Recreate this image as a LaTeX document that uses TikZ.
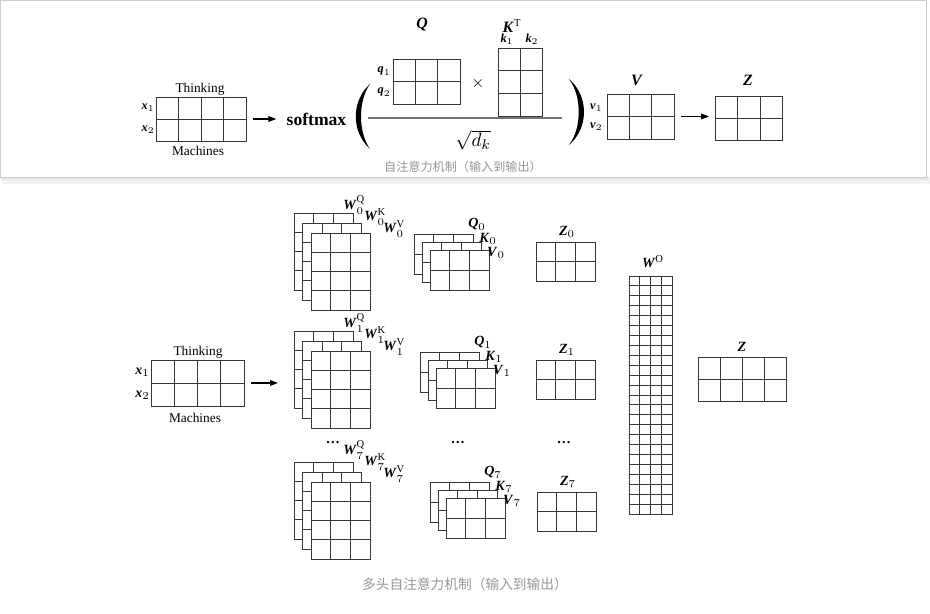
\documentclass[tikz,border=0pt]{standalone}
\usepackage{amsmath}
\usepackage{fontspec}
\setmainfont{Liberation Serif}
\newfontfamily\cjk{Noto Sans CJK SC}
\usetikzlibrary{arrows.meta,calc}
\definecolor{gridGray}{RGB}{55,55,55}
\definecolor{capGray}{RGB}{150,150,150}
\newcommand{\bv}[1]{\textbf{\textit{#1}}}

\begin{document}
\begin{tikzpicture}[x=0.02cm,y=-0.02cm,
    mat/.style n args={4}{draw=gridGray,fill=white,line width=0.55pt,
      inner sep=0pt,outer sep=0pt,anchor=north west,
      minimum width={#1*#3*0.02cm},minimum height={#2*#4*0.02cm},
      path picture={
        \pgfmathtruncatemacro\nc{#1-1}
        \pgfmathtruncatemacro\nr{#2-1}
        \foreach \k in {1,...,\nc}
          \draw[gridGray,line width=0.55pt]
            ($(path picture bounding box.north west)!\k/#1!(path picture bounding box.north east)$) --
            ($(path picture bounding box.south west)!\k/#1!(path picture bounding box.south east)$);
        \foreach \k in {1,...,\nr}
          \draw[gridGray,line width=0.55pt]
            ($(path picture bounding box.north west)!\k/#2!(path picture bounding box.south west)$) --
            ($(path picture bounding box.north east)!\k/#2!(path picture bounding box.south east)$);
      }},
    lbl/.style={font=\fontsize{8}{9}\selectfont,inner sep=0pt},
    big/.style={font=\fontsize{9}{10}\selectfont,inner sep=0pt},
    idx/.style={font=\fontsize{7}{8}\selectfont,inner sep=0pt},
    word/.style={font=\fontsize{7.6}{9}\selectfont,inner sep=0pt},
    etc/.style={font=\fontsize{8}{9}\selectfont\bfseries,inner sep=0pt},
    captext/.style={font=\fontsize{6.9}{8}\cjk,text=capGray,inner sep=0pt},
    arr/.style={-{Triangle[length=4.5pt,width=3.2pt]},line width=0.7pt,black}]

  \useasboundingbox (0,0) rectangle (930,614);

  % card with shadow
  \fill[black!5] (2,177) rectangle (930,184);
  \fill[black!10] (1,176) rectangle (928,180);
  \draw[black!20,fill=white] (0.5,0.5) rectangle (926,177);

  % self-attention: input
  \node[mat={4}{2}{22.5}{22}] (xa) at (156,97) {};
  \node[word] (ta) at (200,89) {Thinking};
  \node[word] (ma) at (198,151) {Machines};
  \node[idx,anchor=east] (xa1) at (155,108) {$\bv{x}_1$};
  \node[idx,anchor=east] (xa2) at (155,130) {$\bv{x}_2$};
  \node[font=\fontsize{10}{12}\selectfont\bfseries,inner sep=0pt] (sm) at (316.5,119) {softmax};
  \draw[arr,shorten <=0.14cm,shorten >=0.2cm] (xa) -- (sm);

  % brackets and fraction
  \fill (370,84) .. controls (351,101) and (351,132) .. (370,149)
                 .. controls (358,132) and (358,101) .. cycle;
  \fill (569,79) .. controls (589,96) and (589,128) .. (569,145)
                 .. controls (582,128) and (582,96) .. cycle;
  \draw[gridGray!70,line width=0.6pt] (368,118) -- (562,118);

  % Q times K^T over sqrt(d_k)
  \node[mat={3}{2}{22.4}{22.5}] (qm) at (393,59) {};
  \node[big] (ql) at (422,25) {$\bv{Q}$};
  \node[idx,anchor=east] (q1) at (391,71) {$\bv{q}_1$};
  \node[idx,anchor=east] (q2) at (391,92) {$\bv{q}_2$};
  \node[font=\fontsize{9}{10}\selectfont,inner sep=0pt] (times) at (478,84) {$\times$};
  \node[mat={2}{3}{22.3}{22.7}] (km) at (498,48) {};
  \node[big] (kl) at (512,26) {$\bv{K}^{\mathrm{T}}$};
  \node[idx] (k1) at (507,39) {$\bv{k}_1$};
  \node[idx] (k2) at (532,39) {$\bv{k}_2$};
  \node[font=\fontsize{11}{13}\selectfont,inner sep=0pt] (dk) at (473,140) {$\sqrt{d_k}$};

  % V and Z
  \node[mat={3}{2}{22.4}{22.5}] (vm) at (607,94) {};
  \node[big] (vl) at (637,80) {$\bv{V}$};
  \node[idx,anchor=east] (v1) at (603,108) {$\bv{v}_1$};
  \node[idx,anchor=east] (v2) at (603,127) {$\bv{v}_2$};
  \node[mat={3}{2}{22.6}{22}] (zm) at (715,96) {};
  \node[big] (zl) at (748,80) {$\bv{Z}$};
  \draw[arr,shorten <=0.14cm,shorten >=0.12cm] (vm.east) -- (vm.east -| zm.west);

  \node[captext] (capa) at (463,167) {自注意力机制（输入到输出）};

  % multi-head: input
  \node[mat={4}{2}{23.25}{23}] (xb) at (151,360) {};
  \node[word] (tb) at (198,352) {Thinking};
  \node[word] (mb) at (195,418) {Machines};
  \node[lbl,anchor=east] (xb1) at (150,372) {$\bv{x}_1$};
  \node[lbl,anchor=east] (xb2) at (150,395) {$\bv{x}_2$};

  % weight matrices per head
  \foreach \h/\y/\ly in {0/213/205,1/331/323,7/462/450} {
    \node[mat={3}{4}{19.67}{19.25}] (wq\h) at (294,\y) {};
    \node[mat={3}{4}{19.67}{19.25}] (wk\h) at (302.5,\y+10) {};
    \node[mat={3}{4}{19.67}{19.25}] (wv\h) at (311,\y+20) {};
    \node[lbl,anchor=west] (lwq\h) at (343,\ly) {$\bv{W}^{\mathrm{Q}}_{\h}$};
    \node[lbl,anchor=west] (lwk\h) at (364,\ly+12) {$\bv{W}^{\mathrm{K}}_{\h}$};
    \node[lbl,anchor=west] (lwv\h) at (383,\ly+24) {$\bv{W}^{\mathrm{V}}_{\h}$};
  }
  \draw[arr,shorten <=0.14cm,shorten >=0.32cm] (xb.east) -- (xb.east -| wq1.west);

  % Q, K, V per head
  \foreach \h/\x/\y in {0/414/234,1/420/352,7/430/482} {
    \node[mat={3}{2}{19.67}{20}] (qq\h) at (\x,\y) {};
    \node[mat={3}{2}{19.67}{20}] (kk\h) at (\x+8,\y+8) {};
    \node[mat={3}{2}{19.67}{20}] (vv\h) at (\x+16,\y+16) {};
    \node[lbl] (lq\h) at (\x+63,\y-10) {$\bv{Q}_{\h}$};
    \node[lbl] (lk\h) at (\x+74,\y+5) {$\bv{K}_{\h}$};
    \node[lbl] (lv\h) at (\x+82,\y+19) {$\bv{V}_{\h}$};
  }

  % Z per head
  \foreach \h/\x/\y in {0/536/242,1/536/360,7/537/492} {
    \node[mat={3}{2}{19.67}{19.7}] (z\h) at (\x,\y) {};
    \node[lbl] (lz\h) at (\x+31,\y-10) {$\bv{Z}_{\h}$};
  }

  % dots
  \node[etc] (dw) at (333,443) {\ldots};
  \node[etc] (dq) at (458,443) {\ldots};
  \node[etc] (dz) at (564,443) {\ldots};

  % W^O and output
  \node[mat={4}{24}{10.75}{9.92}] (wo) at (629,276) {};
  \node[lbl] (lwo) at (653,262) {$\bv{W}^{\mathrm{O}}$};
  \node[mat={4}{2}{22}{22}] (zo) at (698,357) {};
  \node[lbl] (lzo) at (742,347) {$\bv{Z}$};

  \node[captext,font=\fontsize{7.8}{9}\cjk] (capb) at (465,584) {多头自注意力机制（输入到输出）};
\end{tikzpicture}
\end{document}
